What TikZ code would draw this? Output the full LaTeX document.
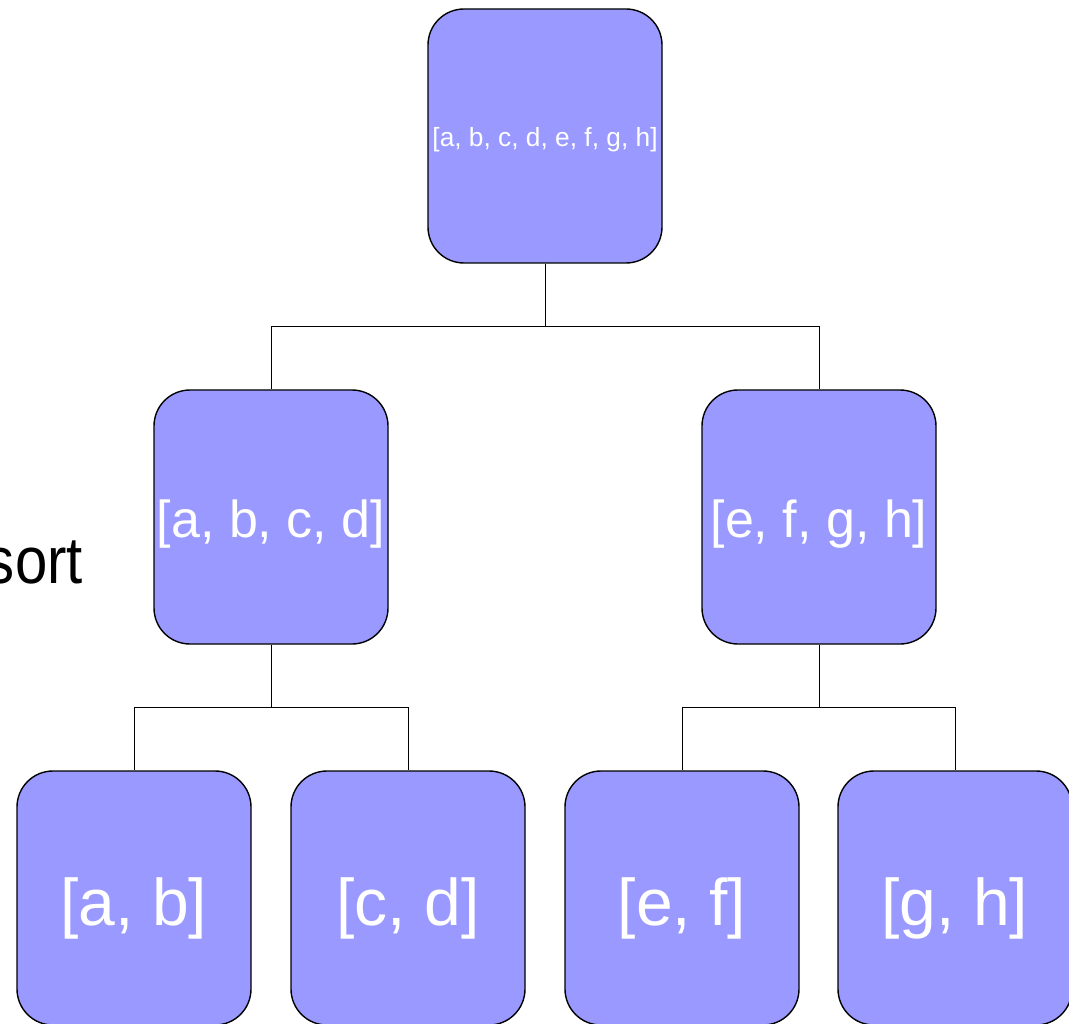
\documentclass[tikz,border=0pt]{standalone}
\usepackage{fontspec}
\setmainfont{Liberation Sans}
\newcommand{\lowered}[2]{\raisebox{-#1}[\height][\depth]{#2}}
\begin{document}
\begin{tikzpicture}[x=1pt,y=-1pt,
  box/.style={draw=black,line width=1.4pt,fill=boxfill,rounded corners=36pt,
    minimum width=234pt,minimum height=254pt,inner sep=0pt,text=white,align=center},
  link/.style={draw=black,line width=0.8pt}]
\definecolor{boxfill}{HTML}{9999FF}
\useasboundingbox (0,0) rectangle (1069,1024);
\clip (0,0) rectangle (1069,1024);
\node[anchor=base east,inner sep=0pt,font=\fontsize{66}{70}\selectfont] (lbl) at (83,583) {\scalebox{0.88}[1]{sort}};
\node[box,font=\fontsize{26.3}{30}\selectfont] (top) at (545,136) {\lowered{4pt}{[a, b, c, d, e, f, g, h]}};
\node[box,font=\fontsize{52}{60}\selectfont] (ml) at (271,517) {\lowered{7pt}{[a, b, c, d]}};
\node[box,font=\fontsize{52}{60}\selectfont] (mr) at (819,517) {\lowered{7pt}{[e, f, g, h]}};
\node[box,font=\fontsize{66}{72}\selectfont] (b1) at (134,898) {\lowered{10pt}{[a, b]}};
\node[box,font=\fontsize{66}{72}\selectfont] (b2) at (408,898) {\lowered{10pt}{[c, d]}};
\node[box,font=\fontsize{66}{72}\selectfont] (b3) at (682,898) {\lowered{10pt}{[e, f]}};
\node[box,font=\fontsize{66}{72}\selectfont] (b4) at (955,898) {\lowered{10pt}{[g, h]}};
\coordinate (j1) at (545,326);
\coordinate (j2) at (271,707);
\coordinate (j3) at (819,707);
\draw[link] (top.south) -- (j1) -| (ml.north);
\draw[link] (j1) -| (mr.north);
\draw[link] (ml.south) -- (j2) -| (b1.north);
\draw[link] (j2) -| (b2.north);
\draw[link] (mr.south) -- (j3) -| (b3.north);
\draw[link] (j3) -| (b4.north);
\end{tikzpicture}
\end{document}
